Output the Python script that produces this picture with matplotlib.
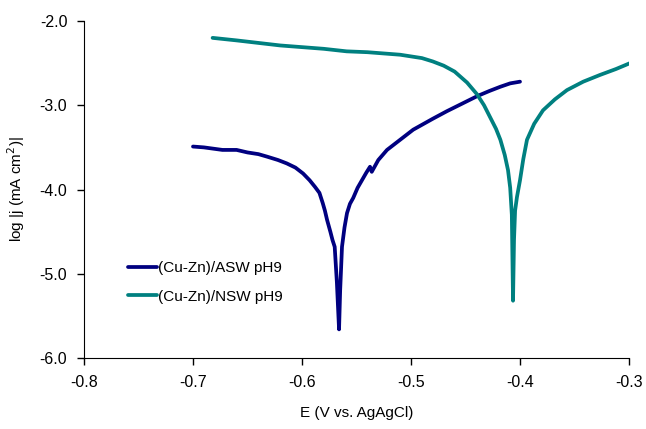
import matplotlib.pyplot as plt

plt.rcParams['font.family'] = ['Liberation Sans', 'DejaVu Sans']

# (Cu-Zn)/ASW pH9 polarisation curve
asw_e = [-0.700, -0.690, -0.673, -0.660, -0.650, -0.640, -0.632, -0.622, -0.614,
         -0.606, -0.599, -0.593, -0.588, -0.584, -0.581, -0.579, -0.577, -0.574,
         -0.572, -0.570, -0.568, -0.566, -0.565, -0.5633, -0.561, -0.5587,
         -0.556, -0.553, -0.549, -0.545, -0.541, -0.5376, -0.536, -0.530,
         -0.522, -0.510, -0.498, -0.480, -0.467, -0.453, -0.439, -0.428,
         -0.418, -0.409, -0.400]
asw_logj = [-3.49, -3.50, -3.53, -3.53, -3.56, -3.58, -3.61, -3.65, -3.69,
            -3.74, -3.81, -3.89, -3.97, -4.04, -4.16, -4.25, -4.36, -4.50,
            -4.60, -4.68, -5.10, -5.66, -5.20, -4.68, -4.45, -4.28,
            -4.17, -4.10, -3.98, -3.89, -3.80, -3.73, -3.79, -3.65,
            -3.53, -3.41, -3.29, -3.16, -3.07, -2.98, -2.89, -2.83,
            -2.78, -2.74, -2.72]

# (Cu-Zn)/NSW pH9 polarisation curve
nsw_e = [-0.682, -0.660, -0.640, -0.620, -0.600, -0.580, -0.559, -0.540,
         -0.520, -0.510, -0.500, -0.490, -0.480, -0.470, -0.460, -0.4486,
         -0.4394, -0.433, -0.4275, -0.422, -0.418, -0.414, -0.411, -0.409,
         -0.4075, -0.4064, -0.4055, -0.4045, -0.4028, -0.400, -0.397, -0.3936,
         -0.387, -0.3789, -0.368, -0.3569, -0.342, -0.3266, -0.312, -0.2991]
nsw_logj = [-2.20, -2.23, -2.26, -2.29, -2.31, -2.33, -2.36, -2.37,
            -2.39, -2.40, -2.42, -2.44, -2.48, -2.53, -2.60, -2.73,
            -2.87, -3.00, -3.14, -3.28, -3.41, -3.59, -3.77, -3.98,
            -4.30, -5.32, -4.60, -4.25, -4.09, -3.89, -3.64, -3.41,
            -3.22, -3.06, -2.93, -2.82, -2.72, -2.64, -2.57, -2.50]

fig = plt.figure(figsize=(6.46, 4.29), dpi=100)
ax = fig.add_axes([0.130, 0.1655, 0.8437, 0.7855])

ax.plot(asw_e, asw_logj, color='#000080', lw=2.7, label='(Cu-Zn)/ASW pH9',
        solid_joinstyle='round', solid_capstyle='round')
ax.plot(nsw_e, nsw_logj, color='#008080', lw=2.7, label='(Cu-Zn)/NSW pH9',
        solid_joinstyle='round', solid_capstyle='round')

ax.set_xlim(-0.8, -0.3)
ax.set_ylim(-6.0, -2.0)
ax.set_xticks([-0.8, -0.7, -0.6, -0.5, -0.4, -0.3])
ax.set_yticks([-6.0, -5.0, -4.0, -3.0, -2.0])
ax.set_xticklabels(['-0.8', '-0.7', '-0.6', '-0.5', '-0.4', '-0.3'])
ax.set_yticklabels(['-6.0', '-5.0', '-4.0', '-3.0', '-2.0'])
ax.tick_params(direction='out', length=5, width=1, labelsize=11.5, pad=7)

ax.spines['top'].set_visible(False)
ax.spines['right'].set_visible(False)

ax.set_xlabel('E (V vs. AgAgCl)', fontsize=11, labelpad=12)
ax.set_ylabel('log |j (mA cm$^{2}$)|', fontsize=11, labelpad=9)

ax.legend(loc='lower left', bbox_to_anchor=(0.055, 0.12), frameon=False,
          fontsize=11, handlelength=1.9, handletextpad=0.1, labelspacing=0.95)

fig.savefig('out.png', dpi=100)
